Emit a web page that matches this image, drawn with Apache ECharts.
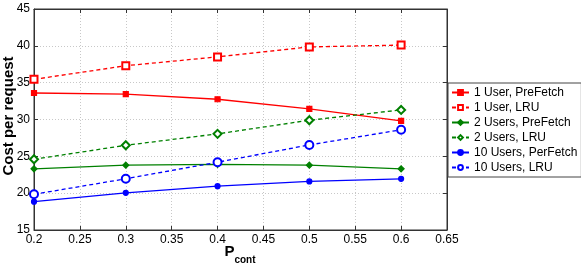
<!DOCTYPE html>
<html><head><meta charset="utf-8">
<script src="https://cdn.jsdelivr.net/npm/echarts@6/dist/echarts.min.js"></script>
<style>html,body{margin:0;padding:0;background:#fff}#c{width:581px;height:267px}</style>
</head><body><div id="c"></div>
<script>
const xValues = [0.2, 0.3, 0.4, 0.5, 0.6];
const seriesNames = ["1 User, PreFetch","1 User, LRU","2 Users, PreFetch","2 Users, LRU","10 Users, PerFetch","10 Users, LRU"];
const user1PreFetch = [33.6, 33.45, 32.75, 31.45, 29.8];
const user1LRU = [35.45, 37.3, 38.5, 39.85, 40.1];
const users2PreFetch = [23.3, 23.8, 23.9, 23.8, 23.3];
const users2LRU = [24.6, 26.5, 28.05, 29.9, 31.3];
const users10PerFetch = [18.85, 20.05, 20.95, 21.6, 21.95];
const users10LRU = [19.85, 21.95, 24.2, 26.55, 28.6];
const values = [user1PreFetch, user1LRU, users2PreFetch, users2LRU, users10PerFetch, users10LRU];
const yTitle = 'Cost per request';
const xTitleMain = 'P';
const xTitleSub = 'cont';
const colors = ["#ff0000","#ff0000","#008000","#008000","#0000ff","#0000ff"];
const symbols = ["rect","emptyRect","diamond","emptyDiamond","circle","emptyCircle"];
const symbolSizes = [5,7,6,8,5,8];
const dashed = [false,true,false,true,false,true];

const font = "Liberation Sans, Arial, Helvetica, sans-serif";
const chart = echarts.init(document.getElementById('c'), null, {renderer:'canvas'});
const series = values.map((v,i)=>({
  name: seriesNames[i],
  type: 'line',
  xAxisIndex: 0, yAxisIndex: 0,
  data: xValues.map((x,j)=>[x, v[j]]),
  symbol: symbols[i],
  symbolSize: symbolSizes[i],
  showAllSymbol: true,
  lineStyle: {color: colors[i], width: 1.3, type: dashed[i] ? [4,3] : 'solid'},
  itemStyle: {color: colors[i], borderColor: colors[i], borderWidth: 1.2},
  animation: false
}));
const gridLine = {show:true, lineStyle:{color:'#c8c8c8', type:[1,2], width:1}};
chart.setOption({
  animation:false,
  backgroundColor:'#fff',
  textStyle:{fontFamily:font},
  grid:{left:34, right:134, top:9, bottom:37, show:true, borderColor:'#333', borderWidth:1, containLabel:false, outerBoundsMode:'none'},
  legend:{
    left:448, top:83, width:128, orient:'vertical',
    itemWidth:17, itemHeight:6, itemGap:2,
    backgroundColor:'#fff', borderColor:'#444', borderWidth:1,
    padding:[3,4,3,3],
    textStyle:{fontSize:12, color:'#000', fontFamily:font, lineHeight:13},
    data: seriesNames
  },
  graphic:[
    {type:'text', x:9, y:116, rotation:Math.PI/2, silent:true,
     style:{text:yTitle, font:'bold 15px '+font, fill:'#000', align:'center', verticalAlign:'middle'}},
    {type:'text', x:240, y:244, silent:true,
     style:{text:'{p|'+xTitleMain+'}{s|'+xTitleSub+'}', align:'center', verticalAlign:'top', fill:'#000',
       rich:{
         p:{fontSize:15, lineHeight:16, fontWeight:'bold', fill:'#000', fontFamily:font, verticalAlign:'top'},
         s:{fontSize:10, lineHeight:10, fontWeight:'bold', fill:'#000', fontFamily:font, verticalAlign:'top', padding:[11,0,0,0]}}}}
  ],
  xAxis:[{
    type:'value', min:0.2, max:0.65, interval:0.05,
    axisLine:{show:true, lineStyle:{color:'#333'}},
    axisTick:{inside:true, length:4, lineStyle:{color:'#333'}},
    axisLabel:{color:'#000', fontSize:12, fontFamily:font, margin:4, formatter:v=>String(+v.toFixed(2))},
    splitLine:gridLine
  },{
    type:'value', position:'top', min:0.2, max:0.65, interval:0.05,
    axisLine:{show:true, lineStyle:{color:'#333'}},
    axisTick:{inside:true, length:4, lineStyle:{color:'#333'}},
    axisLabel:{show:false}, splitLine:{show:false}
  }],
  yAxis:[{
    type:'value', min:15, max:45, interval:5,
    axisLine:{show:true, lineStyle:{color:'#333'}},
    axisTick:{inside:true, length:4, lineStyle:{color:'#333'}},
    axisLabel:{color:'#000', fontSize:12, fontFamily:font, margin:4},
    splitLine:gridLine
  },{
    type:'value', position:'right', min:15, max:45, interval:5,
    axisLine:{show:true, lineStyle:{color:'#333'}},
    axisTick:{inside:true, length:4, lineStyle:{color:'#333'}},
    axisLabel:{show:false}, splitLine:{show:false}
  }],
  series: series
});
</script></body></html>
